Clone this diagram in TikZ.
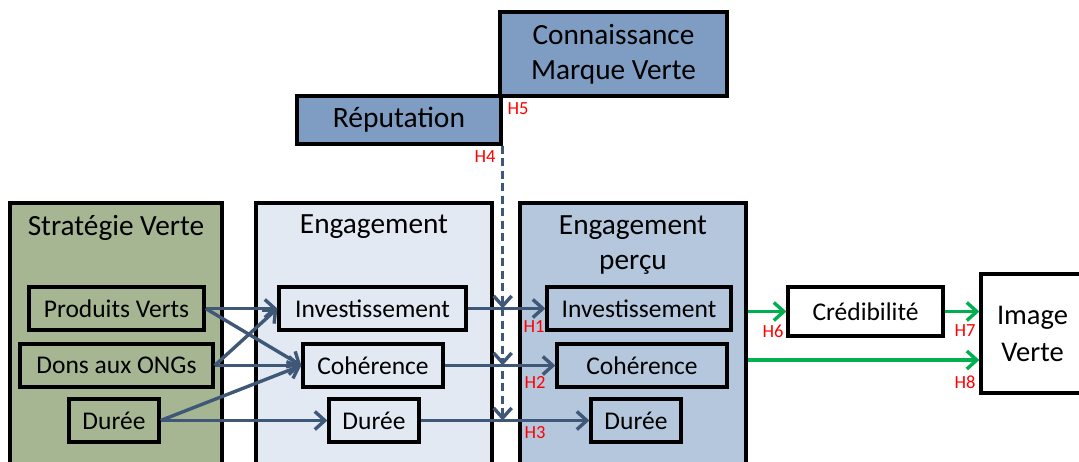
\documentclass[tikz,border=0pt]{standalone}
\usepackage{fontspec}
\setmainfont{Carlito}
\usetikzlibrary{arrows.meta}
\definecolor{boxblue}{HTML}{7F9DC3}
\definecolor{stratgreen}{HTML}{A6B692}
\definecolor{engpale}{HTML}{E2E9F3}
\definecolor{engmid}{HTML}{B4C7DD}
\definecolor{arrowblue}{HTML}{3F5878}
\definecolor{hgreen}{HTML}{00B050}
\definecolor{hred}{HTML}{FF0000}
\tikzset{
  frame/.style={draw=black, line width=3.3pt, inner sep=0pt, align=center},
  bigbox/.style={frame, minimum height=272pt},
  item/.style={frame, minimum height=43pt, font=\fontsize{25.5}{30}\selectfont},
  title/.style={inner sep=0pt, align=center, font=\fontsize{29.3}{35}\selectfont},
  tip/.style={-{Straight Barb[length=10pt,width=18pt,line width=3.4pt]}},
  link/.style={draw=arrowblue, line width=3.4pt, tip},
  hlink/.style={draw=hgreen, line width=3.4pt, tip},
  dlink/.style={link, dash pattern=on 8pt off 4.5pt},
  hlabel/.style={text=hred, inner sep=0pt, font=\fontsize{18.5}{20}\selectfont},
}
\begin{document}
\begin{tikzpicture}[x=1pt, y=-1pt]
\useasboundingbox (0,0) rectangle (1079,461);
\clip (0,0) rectangle (1079,461);

% upper boxes
\node[frame, fill=boxblue, minimum width=227pt, minimum height=84pt,
      font=\fontsize{29.3}{35}\selectfont] (conn) at (613.5,54) {Connaissance\\Marque Verte};
\node[frame, fill=boxblue, minimum width=204pt, minimum height=48pt,
      font=\fontsize{29.5}{32}\selectfont] (rep) at (399,120) {Réputation};

% column containers
\node[bigbox, fill=stratgreen, minimum width=212pt] (strat) at (116,339) {};
\node[bigbox, fill=engpale, minimum width=236pt] (eng) at (374,339) {};
\node[bigbox, fill=engmid, minimum width=226pt] (engp) at (633,339) {};
\node[title] (stratT) at (116,228) {Stratégie Verte};
\node[title] (engT) at (374,227) {Engagement};
\node[title] (engpT) at (633,245) {Engagement\\perçu};

% items of the green strategy
\node[item, fill=stratgreen, minimum width=175pt] (pv) at (116.5,308.5) {Produits Verts};
\node[item, fill=stratgreen, minimum width=193pt] (dons) at (116.5,365.5) {Dons aux ONGs};
\node[item, fill=stratgreen, minimum width=90pt] (dur1) at (114,420.5) {Durée};

% items of the engagement
\node[item, fill=engpale, minimum width=187pt] (inv2) at (372.5,308.5) {Investissement};
\node[item, fill=engpale, minimum width=140pt] (coh2) at (373,365.5) {Cohérence};
\node[item, fill=engpale, minimum width=90pt] (dur2) at (374,420.5) {Durée};

% items of the perceived engagement
\node[item, fill=engmid, minimum width=184pt] (inv3) at (639,308.5) {Investissement};
\node[item, fill=engmid, minimum width=170pt] (coh3) at (642,365.5) {Cohérence};
\node[item, fill=engmid, minimum width=90pt] (dur3) at (636,420.5) {Durée};

% outcomes
\node[item, fill=white, minimum width=155pt, minimum height=49pt] (cred) at (865.5,311.5) {Crédibilité};
\node[frame, fill=white, minimum width=103pt, minimum height=119pt,
      font=\fontsize{28.5}{37}\selectfont] (img) at (1032.5,333.5) {Image\\Verte};

% strategy -> engagement
\draw[link] (pv.east) -- (inv2.west);
\draw[link] (pv.east) -- (coh2.west);
\draw[link] (dons.east) -- (inv2.west);
\draw[link] (dons.east) -- (coh2.west);
\draw[link] (dur1.east) -- (coh2.west);
\draw[link] (dur1.east) -- (dur2.west);

% engagement -> perceived engagement
\draw[link] (inv2.east) -- (inv3.west);
\draw[link] (coh2.east) -- (coh3.west);
\draw[link] (dur2.east) -- (dur3.west);

% moderating reputation / knowledge
\coordinate (mod) at (rep.south east);
\draw[dlink] (mod) -- (mod |- inv2.east);
\draw[dlink] (mod) -- (mod |- coh2.east);
\draw[dlink] (mod) -- (mod |- dur2.east);

% perceived engagement -> credibility -> image
\coordinate (h6s) at (engp.east |- cred.west);
\coordinate (h8s) at (engp.east |- 0,360);
\coordinate (h8e) at (img.west |- 0,360);
\draw[hlink] (h6s) -- (cred.west);
\draw[hlink] (cred.east) -- (img.west |- cred.east);
\draw[hlink] (h8s) -- (h8e);

% hypothesis labels
\node[hlabel] (h5) at (518,109) {H5};
\node[hlabel] (h4) at (485,157) {H4};
\node[hlabel] (h1) at (534,327) {H1};
\node[hlabel] (h2) at (535,382) {H2};
\node[hlabel] (h3) at (535,433) {H3};
\node[hlabel] (h6) at (773,331) {H6};
\node[hlabel] (h7) at (965,331) {H7};
\node[hlabel] (h8) at (965,382) {H8};
\end{tikzpicture}
\end{document}
